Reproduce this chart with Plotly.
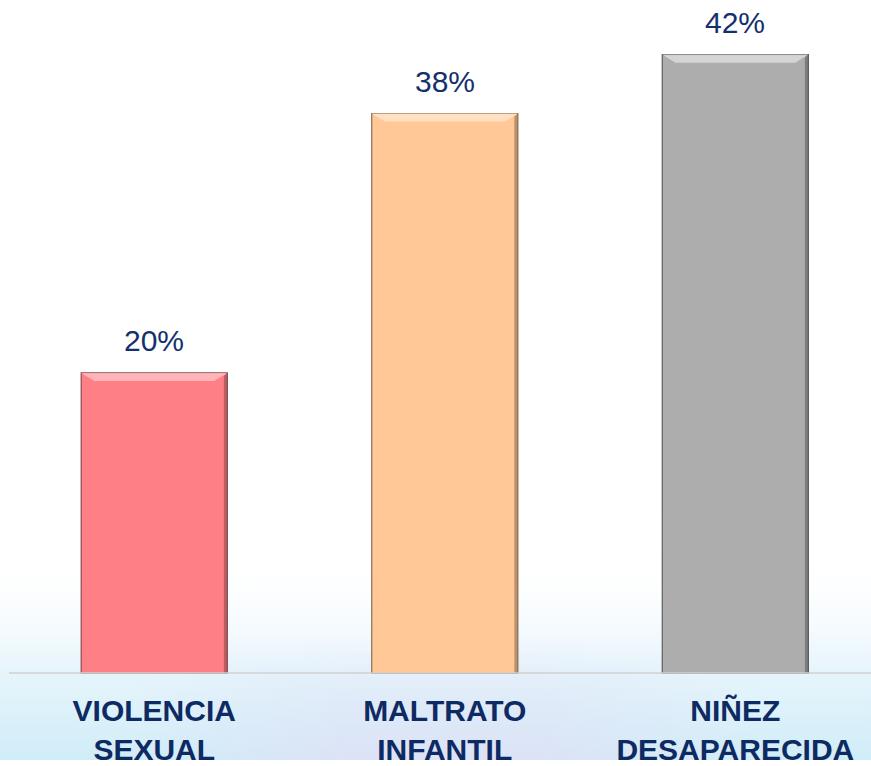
import plotly.graph_objects as go

categories = ["VIOLENCIA<br>SEXUAL", "MALTRATO<br>INFANTIL", "NIÑEZ<br>DESAPARECIDA"]
values = [20.4, 38, 42]
value_labels = ["20%", "38%", "42%"]
colors = ["#FF7F86", "#FFC896", "#ADADAD"]
edge_colors = ["#8A4A4E", "#8A6E50", "#5E5E5E"]
highlight = ["#FFC2C6", "#FFE6CE", "#DEDEDE"]

W, H = 871, 766
plot_left, plot_bottom = 9, 679
ymax = 45.7
bar_w = 0.503

fig = go.Figure()

# ---- background gradient on a full-figure helper axis (pixel units, y up)
fig.add_trace(go.Scatter(
    x=[0, W, W, 0, 0], y=[0, 0, 215, 215, 0], mode="lines", line=dict(width=0),
    fill="toself", xaxis="x", yaxis="y", hoverinfo="skip", showlegend=False,
    fillgradient=dict(type="vertical", start=0, stop=215,
                      colorscale=[[0, "rgba(206,236,248,1)"], [0.45, "rgba(226,243,251,0.85)"],
                                  [1, "rgba(255,255,255,0)"]]),
))
n_strips = 10
for k in range(n_strips):
    y0 = k * 12
    a = 0.75 * (1 - k / n_strips)
    fig.add_trace(go.Scatter(
        x=[130, 760, 760, 130, 130], y=[y0, y0, y0 + 12, y0 + 12, y0], mode="lines",
        line=dict(width=0), fill="toself", xaxis="x", yaxis="y", hoverinfo="skip",
        showlegend=False,
        fillgradient=dict(type="horizontal", start=130, stop=760,
                          colorscale=[[0, "rgba(224,224,246,0)"], [0.35, f"rgba(224,224,246,{a:.2f})"],
                                      [0.65, f"rgba(224,224,246,{a:.2f})"], [1, "rgba(224,224,246,0)"]]),
    ))

# ---- bars
fig.add_trace(go.Bar(
    x=list(range(len(categories))), y=values, width=bar_w,
    marker=dict(color=colors, line=dict(color=edge_colors, width=1.2)),
    xaxis="x2", yaxis="y2", hoverinfo="skip", showlegend=False,
))

shapes = []
bev = 0.55
for i, v in enumerate(values):
    xl, xr = i - bar_w / 2, i + bar_w / 2
    dx = 0.045
    shapes.append(dict(type="path", xref="x2", yref="y2",
                       path=f"M {xl},{v} L {xr},{v} L {xr-dx},{v-bev} L {xl+dx},{v-bev} Z",
                       fillcolor=highlight[i], line=dict(width=0), opacity=0.8))
    shapes.append(dict(type="path", xref="x2", yref="y2",
                       path=f"M {xr},{v} L {xr},0 L {xr-0.012},0 L {xr-0.012},{v-0.2} Z",
                       fillcolor=edge_colors[i], line=dict(width=0), opacity=0.6))

# baseline
shapes.append(dict(type="line", xref="x2 domain", yref="y2", x0=0, x1=1, y0=0, y1=0,
                   line=dict(color="#D0D0D0", width=3)))

annotations = []
for i, (v, t) in enumerate(zip(values, value_labels)):
    annotations.append(dict(x=i, y=v, xref="x2", yref="y2", text=t, showarrow=False,
                            yanchor="bottom", yshift=14,
                            font=dict(family="Liberation Sans, Arial", size=30, color="#14306E")))

fig.update_layout(
    width=W, height=H,
    margin=dict(l=0, r=0, t=0, b=0),
    paper_bgcolor="white", plot_bgcolor="rgba(0,0,0,0)",
    shapes=shapes, annotations=annotations,
    xaxis=dict(domain=[0, 1], range=[0, W], visible=False, fixedrange=True),
    yaxis=dict(domain=[0, 1], range=[0, H], visible=False, fixedrange=True),
    xaxis2=dict(domain=[plot_left / W, 1], anchor="y2", range=[-0.5, 2.467],
                tickmode="array", tickvals=list(range(len(categories))),
                ticktext=categories, showgrid=False, zeroline=False, showline=False,
                ticks="", ticklabelstandoff=16,
                tickfont=dict(family="Liberation Sans, Arial", size=30,
                              color="#0D2A63", weight="bold")),
    yaxis2=dict(domain=[(H - plot_bottom) / H, 1], anchor="x2", range=[0, ymax],
                visible=False, showgrid=False, zeroline=False),
)

fig.write_html("out.html", config={"displayModeBar": False},
               post_script="document.body.style.margin='0';")
